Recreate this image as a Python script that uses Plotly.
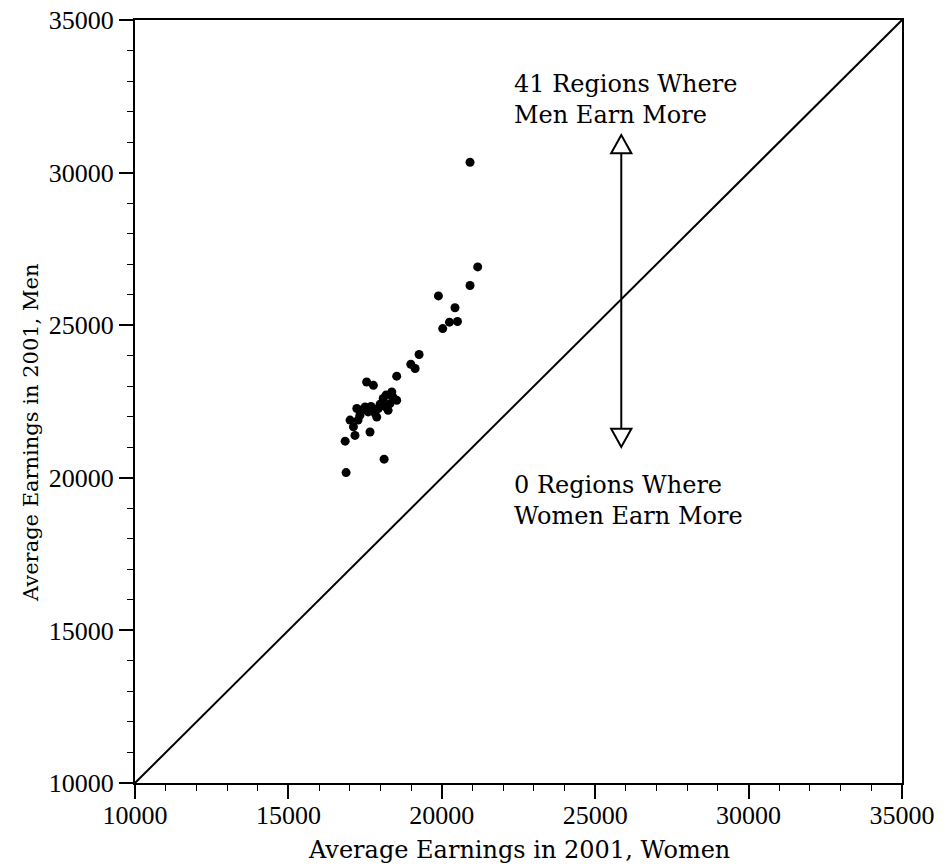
import plotly.graph_objects as go

# Data (average earnings in 2001)
women = [20920, 21170, 20920, 19890, 20430, 20250, 20510, 20030, 19260, 18990,
         19130, 18530, 17550, 17770, 18370, 18530, 18310, 18090, 17500, 17600,
         17770, 17930, 17880, 17230, 17330, 17010, 17120, 17170, 17660, 16850,
         18120, 16880, 18180, 17990, 18250, 17400, 17820, 18410, 17270, 18150,
         17690]
men = [30340, 26910, 26300, 25960, 25570, 25100, 25120, 24890, 24040, 23720,
       23580, 23330, 23140, 23030, 22810, 22540, 22430, 22600, 22320, 22160,
       22210, 22270, 21990, 22270, 22050, 21890, 21670, 21390, 21500, 21200,
       20610, 20170, 22710, 22410, 22210, 22210, 22120, 22640, 21890, 22340,
       22340]

AXIS_MIN = 10000
AXIS_MAX = 35000
TICKS = [10000, 15000, 20000, 25000, 30000, 35000]
TICK_TEXT = ["10000", "15000", "20000", "25000", "30000", "35000"]

X_TITLE = "Average Earnings in 2001, Women"
Y_TITLE = "Average Earnings in 2001, Men"
TOP_TEXT = "41 Regions Where<br>Men Earn More"
BOTTOM_TEXT = "0 Regions Where<br>Women Earn More"

# Arrow annotation geometry (data units)
ARROW_X = 25850
ARROW_TOP = 31230
ARROW_BOTTOM = 21010
HEAD_LEN = 600
HEAD_HALF_W = 330
TEXT_X = 22290
TOP_TEXT_Y = 32410
BOTTOM_TEXT_Y = 19262

SERIF = "DejaVu Serif"
TICK_FONT = "Liberation Serif"

# page body has an 8px margin; size the figure so the plot lands where the reference has it
OFF = 8
W, H = 943 - OFF, 867 - OFF
L, R, T, B = 135 - OFF, 41, 20 - OFF, 84
pw, ph = W - L - R, H - T - B


def paper_x(px):
    return (px - OFF - L) / pw


def paper_y(py):
    return (H - B - (py - OFF)) / ph


fig = go.Figure()

# diagonal equality line
fig.add_trace(go.Scatter(
    x=[AXIS_MIN, AXIS_MAX], y=[AXIS_MIN, AXIS_MAX], mode="lines",
    line=dict(color="black", width=2), hoverinfo="skip", showlegend=False))

# arrow shaft
fig.add_trace(go.Scatter(
    x=[ARROW_X, ARROW_X], y=[ARROW_TOP - HEAD_LEN, ARROW_BOTTOM + HEAD_LEN], mode="lines",
    line=dict(color="black", width=2), hoverinfo="skip", showlegend=False))

# data points
fig.add_trace(go.Scatter(
    x=women, y=men, mode="markers",
    marker=dict(color="black", size=9, line=dict(width=0)),
    showlegend=False))

shapes = [
    dict(type="path", xref="x", yref="y",
         path=f"M {ARROW_X - HEAD_HALF_W},{ARROW_TOP - HEAD_LEN} L {ARROW_X + HEAD_HALF_W},{ARROW_TOP - HEAD_LEN} L {ARROW_X},{ARROW_TOP} Z",
         fillcolor="white", line=dict(color="black", width=2)),
    dict(type="path", xref="x", yref="y",
         path=f"M {ARROW_X - HEAD_HALF_W},{ARROW_BOTTOM + HEAD_LEN} L {ARROW_X + HEAD_HALF_W},{ARROW_BOTTOM + HEAD_LEN} L {ARROW_X},{ARROW_BOTTOM} Z",
         fillcolor="white", line=dict(color="black", width=2)),
]

annotations = [
    dict(x=TEXT_X, y=TOP_TEXT_Y, xref="x", yref="y", text=TOP_TEXT, showarrow=False,
         xanchor="left", yanchor="middle", align="left",
         font=dict(family=SERIF, size=24, color="black")),
    dict(x=TEXT_X, y=BOTTOM_TEXT_Y, xref="x", yref="y", text=BOTTOM_TEXT, showarrow=False,
         xanchor="left", yanchor="middle", align="left",
         font=dict(family=SERIF, size=24, color="black")),
    dict(x=paper_x(519), y=paper_y(850), xref="paper", yref="paper", text=X_TITLE,
         showarrow=False, xanchor="center", yanchor="middle",
         font=dict(family=SERIF, size=24, color="black")),
    dict(x=paper_x(31), y=paper_y(433), xref="paper", yref="paper", text=Y_TITLE,
         showarrow=False, xanchor="center", yanchor="middle", textangle=-90,
         font=dict(family=SERIF, size=21, color="black")),
]

axis_common = dict(
    range=[AXIS_MIN, AXIS_MAX], tickvals=TICKS, ticktext=TICK_TEXT,
    showgrid=False, zeroline=False, showline=True, linecolor="black", linewidth=2,
    mirror=True, ticks="outside", ticklen=14, tickwidth=1.5, tickcolor="black",
    tickfont=dict(family=TICK_FONT, size=26, color="black"),
    automargin=False, ticklabeloverflow="allow",
    minor=dict(dtick=1000, ticks="outside", ticklen=6, tickwidth=1, tickcolor="black", showgrid=False),
)

fig.update_xaxes(**axis_common, ticklabelstandoff=-6)
fig.update_yaxes(**axis_common)

fig.update_layout(
    width=W, height=H,
    margin=dict(l=L, r=R, t=T, b=B, autoexpand=False),
    paper_bgcolor="white", plot_bgcolor="white",
    shapes=shapes, annotations=annotations,
    showlegend=False,
)

fig.write_html("out.html")
